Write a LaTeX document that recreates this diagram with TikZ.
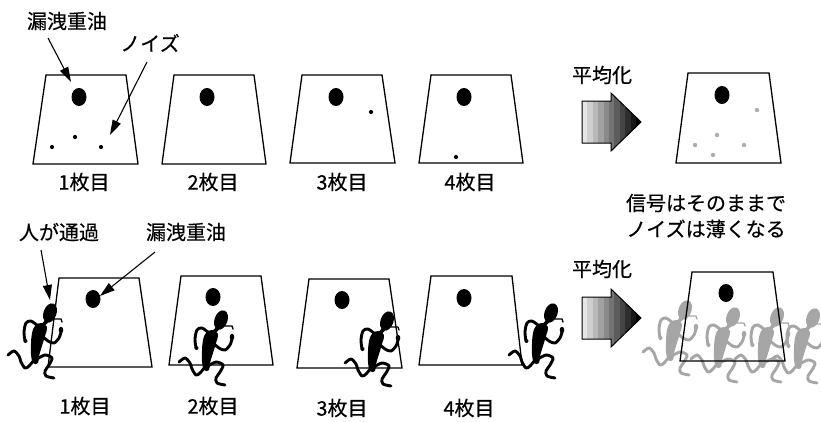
\documentclass[tikz,border=0pt]{standalone}
\usepackage{fontspec}
\setmainfont{Noto Sans CJK JP}[FakeBold=0.4]
\usetikzlibrary{arrows.meta}

\tikzset{
  % running person silhouette, local origin at the top-left of its box
  runner/.pic={
    \begin{scope}[rotate around={-20:(49,25)}]
      \fill (49,25) ellipse [x radius=6.5, y radius=10];
    \end{scope}
    \draw[line width=1.4pt,line cap=round,line join=round] (53,31) -- (60,31) -- (61,34);
    \draw[line width=3.8pt,line cap=round] (46,33) -- (41,38);
    \fill plot[smooth cycle, tension=0.7] coordinates
      {(40,35) (46,39) (44,48) (41,58) (38,68) (37,75) (32,75) (30,66) (30,56) (31,45) (34,38)};
    \draw[limb] plot[smooth] coordinates {(37,38) (30,33) (25,35) (23,44) (24,53)};
    \fill (24.5,53) circle [radius=2];
    \draw[limb] plot[smooth] coordinates {(40,47) (47,53) (53,55) (58,50) (60,44)};
    \fill (60,42) ellipse [x radius=2.3, y radius=3.2];
    \draw[limb] plot[smooth] coordinates {(36,71) (44,67) (51,70) (48,77) (44,83) (45,88) (53,90)};
    \draw[limb] plot[smooth] coordinates {(33,72) (28,78) (24,80) (20,74) (18,68) (13,63) (7,67)};
  },
  % shaded block arrow for the averaging step
  avgarrow/.pic={
    \begin{scope}
      \clip (0,8) -- (29,8) -- (29,0) -- (59,29) -- (29,58) -- (29,50) -- (0,50) -- cycle;
      \foreach \k in {0,...,10} {
        \pgfmathtruncatemacro\shade{10+9*\k}
        \fill[black!\shade] (\k*5.4,-1) rectangle (\k*5.4+5.6,60);
      }
    \end{scope}
    \draw[line width=1pt,line join=miter]
      (0,8) -- (29,8) -- (29,0) -- (59,29) -- (29,58) -- (29,50) -- (0,50) -- cycle;
  }
}

\begin{document}
\begin{tikzpicture}[x=1pt,y=-1pt,
  frame/.style={draw=black,line width=1.3pt,line join=miter},
  callout/.style={draw=black,line width=1.1pt,-{Triangle[length=15pt,width=9pt]}},
  lbl/.style={font=\fontsize{20}{26}\selectfont, inner sep=0pt},
  limb/.style={line width=2.9pt,line cap=round,line join=round},
  noise/.style={fill=black},
  faint/.style={fill=black!32}
  ]
\useasboundingbox[fill=white] (0,0) rectangle (821,421);

% ---------- top row: oil with noise ----------
\draw[frame] (46,75) -- (126,75) -- (138,164) -- (33,164) -- cycle;
\draw[frame] (174,75) -- (254,75) -- (266,164) -- (162,164) -- cycle;
\draw[frame] (302,75) -- (382,75) -- (395,163) -- (290,163) -- cycle;
\draw[frame] (431,75) -- (511,75) -- (523,163) -- (419,163) -- cycle;

\fill (79,97) ellipse [x radius=7.5, y radius=9];
\fill (207,97) ellipse [x radius=7.5, y radius=9];
\fill (336,97) ellipse [x radius=7.5, y radius=9];
\fill (464,97) ellipse [x radius=7.5, y radius=9];

\fill[noise] (52,147) circle [radius=2.1];
\fill[noise] (75,137) circle [radius=2.1];
\fill[noise] (101,147) circle [radius=2.1];
\fill[noise] (371,112) circle [radius=2.1];
\fill[noise] (456,157) circle [radius=2.1];

\node[lbl] (leakA) at (67,21) {漏洩重油};
\node[lbl] (noiseA) at (150,43) {ノイズ};
\coordinate (leakAtail) at (48,38);
\coordinate (leakAtip) at (71,82);
\coordinate (noiseAtail) at (147,62);
\coordinate (noiseAtip) at (110,135);
\draw[callout] (leakAtail) -- (leakAtip);
\draw[callout] (noiseAtail) -- (noiseAtip);

\node[lbl] (capA1) at (84,182) {1枚目};
\node[lbl] (capA2) at (213,182) {2枚目};
\node[lbl] (capA3) at (342,182) {3枚目};
\node[lbl] (capA4) at (470,182) {4枚目};

\node[lbl] (avgA) at (602,75) {平均化};
\pic at (582,93) {avgarrow};

\draw[frame] (688,73) -- (769,73) -- (781,163) -- (676,163) -- cycle;
\fill (722,95) ellipse [x radius=7.5, y radius=9];
\fill[faint] (757,110) circle [radius=2.2];
\fill[faint] (717,135) circle [radius=2.2];
\fill[faint] (695,145) circle [radius=2.2];
\fill[faint] (744,145) circle [radius=2.2];
\fill[faint] (713,155) circle [radius=2.2];

\node[lbl,align=center] (result) at (706,216) {信号はそのままで\\ノイズは薄くなる};

% ---------- bottom row: a person walking through ----------
\draw[frame] (59,278) -- (139,278) -- (152,367) -- (48,367) -- cycle;
\draw[frame] (181,276) -- (261,276) -- (273,365) -- (169,365) -- cycle;
\draw[frame] (309,279) -- (389,279) -- (402,368) -- (297,368) -- cycle;
\draw[frame] (431,276) -- (512,276) -- (522,365) -- (419,365) -- cycle;

\fill (93,299) ellipse [x radius=7.5, y radius=9];
\fill (213,297) ellipse [x radius=7.5, y radius=9];
\fill (342,300) ellipse [x radius=7.5, y radius=9];
\fill (464,298) ellipse [x radius=7.5, y radius=9];

\pic at (1,288) {runner};
\pic at (172,295) {runner};
\pic at (338,296) {runner};
\pic at (502,288) {runner};

\node[lbl] (walkB) at (59,232) {人が通過};
\node[lbl] (leakB) at (186,232) {漏洩重油};
\coordinate (walkBtail) at (41,250);
\coordinate (walkBtip) at (50,300);
\coordinate (leakBtail) at (155,252);
\coordinate (leakBtip) at (100,296);
\draw[callout] (walkBtail) -- (walkBtip);
\draw[callout] (leakBtail) -- (leakBtip);

\node[lbl] (capB1) at (85,406) {1枚目};
\node[lbl] (capB2) at (213,406) {2枚目};
\node[lbl] (capB3) at (342,408) {3枚目};
\node[lbl] (capB4) at (469,408) {4枚目};

\node[lbl] (avgB) at (602,269) {平均化};
\pic at (582,289) {avgarrow};

\begin{scope}
  \clip (0,0) rectangle (821,421);
  \pic[color=black!35] at (636,285) {runner};
  \pic[color=black!35] at (684,292) {runner};
  \pic[color=black!35] at (728,292) {runner};
  \pic[color=black!35] at (764,293) {runner};
\end{scope}
\draw[frame] (692,272) -- (773,272) -- (785,361) -- (680,361) -- cycle;
\fill (726,293) ellipse [x radius=7.5, y radius=9];
\end{tikzpicture}
\end{document}
